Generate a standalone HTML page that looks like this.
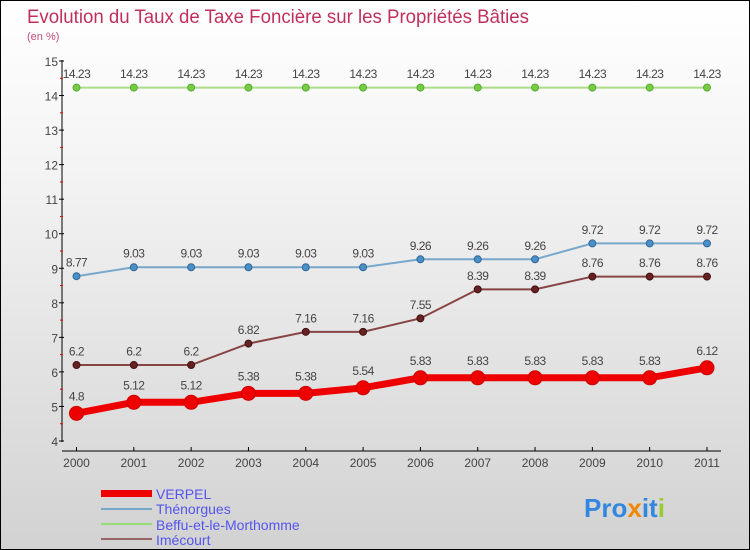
<!DOCTYPE html>
<html><head><meta charset="utf-8"><style>
body{margin:0}
#c{position:relative;width:748px;height:548px;border:1px solid #000;background:linear-gradient(#ffffff,#f4f4f4 30%,#d2d2d2);font-family:"Liberation Sans",sans-serif;overflow:hidden}
</style></head><body>
<div id="c">
<svg width="748" height="548" style="position:absolute;left:0;top:0" id="svg">
<text x="26" y="22" font-size="19" fill="#c0305a" textLength="502" lengthAdjust="spacingAndGlyphs">Evolution du Taux de Taxe Foncière sur les Propriétés Bâties</text>
<text x="26" y="39" font-size="11" fill="#c0507a">(en %)</text>
<g id="axes"></g><g id="series"></g>
<g>
<rect x="100" y="489" width="51" height="7" fill="#e00"/>
<text x="155" y="498" font-size="14" fill="#5555ee">VERPEL</text>
<rect x="100" y="507" width="51" height="2" fill="#77a8cc"/>
<text x="155" y="513" font-size="14" fill="#5555ee">Thénorgues</text>
<rect x="100" y="522" width="51" height="2" fill="#99dd77"/>
<text x="155" y="529" font-size="14" fill="#5555ee">Beffu-et-le-Morthomme</text>
<rect x="100" y="537" width="51" height="2" fill="#996666"/>
<text x="155" y="544" font-size="14" fill="#5555ee">Imécourt</text>
</g>
<text x="583" y="516" font-size="26" font-weight="bold"><tspan fill="#3388dd">Pro</tspan><tspan fill="#ee8800">x</tspan><tspan fill="#3388dd">it</tspan><tspan fill="#99cc33">i</tspan></text>
</svg>
<script>
const years=[2000,2001,2002,2003,2004,2005,2006,2007,2008,2009,2010,2011];
const yTicks=[4,5,6,7,8,9,10,11,12,13,14,15];
const verpel=[4.8,5.12,5.12,5.38,5.38,5.54,5.83,5.83,5.83,5.83,5.83,6.12];
const thenorgues=[8.77,9.03,9.03,9.03,9.03,9.03,9.26,9.26,9.26,9.72,9.72,9.72];
const beffu=[14.23,14.23,14.23,14.23,14.23,14.23,14.23,14.23,14.23,14.23,14.23,14.23];
const imecourt=[6.2,6.2,6.2,6.82,7.16,7.16,7.55,8.39,8.39,8.76,8.76,8.76];
const NS="http://www.w3.org/2000/svg";
const X=i=>75.5+i*(706-75.5)/(years.length-1);
const Y=v=>440-(v-4)*(380/11);
function mk(t,a,p){const e=document.createElementNS(NS,t);for(const k in a)e.setAttribute(k,a[k]);p.appendChild(e);return e;}
const ax=document.getElementById('axes');
let yl=mk('line',{x1:61,y1:59,x2:61,y2:441,stroke:'#000'},ax);


let xl=mk('line',{x1:61,y1:450,x2:720,y2:450,stroke:'#000'},ax);


yTicks.forEach(v=>{
  mk('line',{x1:58,y1:Y(v),x2:63,y2:Y(v),stroke:'#000'},ax);
  if(v<15)mk('line',{x1:59,y1:Y(v+0.5),x2:62,y2:Y(v+0.5),stroke:'#e00'},ax);
  const t=mk('text',{x:57,y:Y(v)+5,'font-size':12,fill:'#444','text-anchor':'end'},ax);t.textContent=v;
  
  
});
years.forEach((y,i)=>{
  mk('line',{x1:X(i),y1:446,x2:X(i),y2:450,stroke:'#000'},ax);
  const t=mk('text',{x:X(i),y:466,'font-size':12,fill:'#444','text-anchor':'middle'},ax);t.textContent=y;
  
  
});
const sg=document.getElementById('series');
function series(vals,name,color,w,r,dot,dotStroke){
  const g=mk('g',{},sg);
  
  
  mk('polyline',{points:vals.map((v,i)=>X(i)+','+Y(v)).join(' '),fill:'none',stroke:color,'stroke-width':w},g);
  vals.forEach((v,i)=>{
    const c=mk('circle',{cx:X(i),cy:Y(v),r:r,fill:dot,stroke:dotStroke,'stroke-width':1},g);
    
    
    const t=mk('text',{x:X(i),y:Y(v)-(r+6),'font-size':12,fill:'#444','text-anchor':'middle','letter-spacing':'-0.5'},g);
    t.textContent=v;
    
    
  });
}
series(beffu,'beffu','#aade88',2,3.5,'#77cc44','#55aa33');
series(thenorgues,'thenorgues','#77a8cc',2,3.5,'#4a90c8','#336699');
series(imecourt,'imecourt','#884444',2,3.5,'#662222','#441111');
series(verpel,'verpel','#ee0000',7,7,'#ee0000','#cc0000');
</script>
</div>
</body></html>
